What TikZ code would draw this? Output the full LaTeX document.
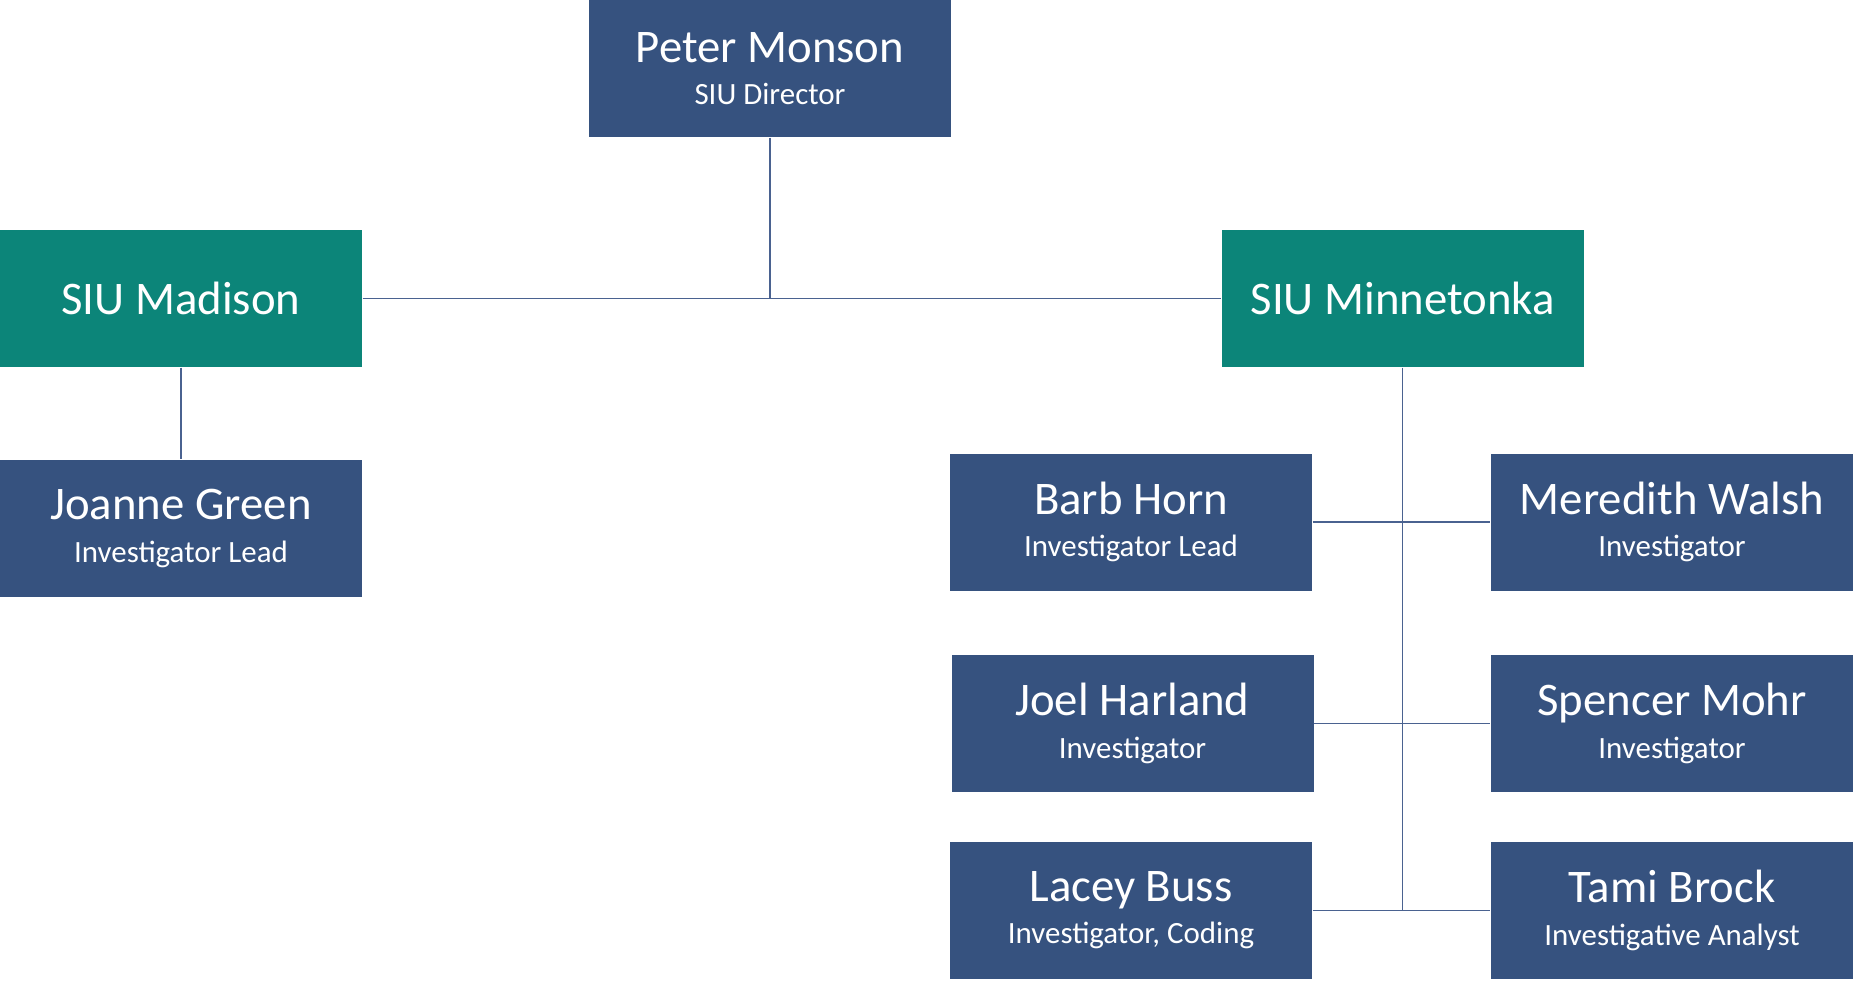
\documentclass[tikz,border=0pt]{standalone}
\usepackage{fontspec}
\setmainfont{Carlito}
\definecolor{navy}{HTML}{36527F}
\definecolor{teal}{HTML}{0C8579}
\definecolor{wire}{HTML}{4A6290}
\newcommand{\namesize}{\fontsize{13.3}{16}\selectfont}
\newcommand{\rolesize}{\fontsize{8.8}{11}\selectfont}
\tikzset{
  person/.style={fill=navy, text=white, minimum width=3.62cm, minimum height=1.37cm,
    inner sep=0pt, align=center, font=\rolesize},
  office/.style={person, fill=teal, font=\namesize},
  wire/.style={draw=wire, line width=0.5pt}
}
\begin{document}
\begin{tikzpicture}
\useasboundingbox (0,0) rectangle (18.53,-9.81);
\node[person] (peter) at (7.70,-0.685) {{\namesize Peter Monson}\\[1pt]SIU Director};
\node[office] (madison) at (1.81,-2.985) {SIU Madison};
\node[office] (minnetonka) at (14.025,-2.985) {SIU Minnetonka};
\node[person] (joanne) at (1.81,-5.285) {{\namesize Joanne Green}\\[1pt]Investigator Lead};
\node[person] (barb) at (11.31,-5.22) {{\namesize Barb Horn}\\[1pt]Investigator Lead};
\node[person] (meredith) at (16.72,-5.22) {{\namesize Meredith Walsh}\\[1pt]Investigator};
\node[person] (joel) at (11.325,-7.235) {{\namesize Joel Harland}\\[1pt]Investigator};
\node[person] (spencer) at (16.72,-7.235) {{\namesize Spencer Mohr}\\[1pt]Investigator};
\node[person] (lacey) at (11.31,-9.105) {{\namesize Lacey Buss}\\[1pt]Investigator, Coding};
\node[person] (tami) at (16.72,-9.105) {{\namesize Tami Brock}\\[1pt]Investigative Analyst};
% connectors
\coordinate (hub) at (peter.south |- madison.east);
\coordinate (trunk) at (minnetonka.south |- lacey.east);
\draw[wire] (peter.south) -- (hub);
\draw[wire] (madison.east) -- (minnetonka.west);
\draw[wire] (madison.south) -- (joanne.north);
\draw[wire] (minnetonka.south) -- (trunk);
\draw[wire] (barb.east) -- (meredith.west);
\draw[wire] (joel.east) -- (spencer.west);
\draw[wire] (lacey.east) -- (tami.west);
\end{tikzpicture}
\end{document}
